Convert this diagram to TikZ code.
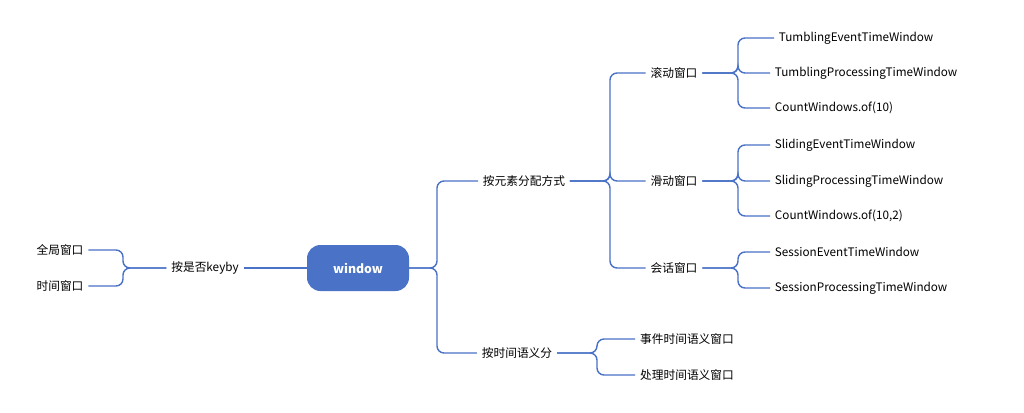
\documentclass[tikz,border=0pt]{standalone}
\usepackage{fontspec}
\setmainfont{Noto Sans CJK SC}
\usetikzlibrary{positioning}
\definecolor{linkblue}{HTML}{4A72C6}
\begin{document}
\begin{tikzpicture}[x=0.03cm, y=-0.03cm,
        item/.style={inner sep=4pt, font=\fontsize{10pt}{12pt}\selectfont},
        leaf/.style={item, anchor=west},
        root/.style={rounded corners=11.5pt, fill=linkblue, text=white, minimum width=3.06cm, minimum height=1.38cm, font=\bfseries\fontsize{10.5pt}{12pt}\selectfont},
        link/.style={draw=linkblue, line width=1.2pt, rounded corners=6pt}
        ]
        \useasboundingbox (0,0) rectangle (1024,412);

        % Nodes
        \node (win) [root] at (358,268) {window};
        \node (keyby) [item] at (205,268) {按是否keyby};
        \node (global) [item] at (60,250) {全局窗口};
        \node (timewin) [item] at (60,286) {时间窗口};
        \node (assign) [item] at (524,181) {按元素分配方式};
        \node (sem) [item] at (517,353) {按时间语义分};
        \node (tumble) [item] at (674,73) {滚动窗口};
        \node (slide) [item] at (674,181) {滑动窗口};
        \node (session) [item] at (674,268) {会话窗口};
        \node (tev) [leaf] at (774,38) {TumblingEventTimeWindow};
        \node (tpr) [leaf] at (770,73) {TumblingProcessingTimeWindow};
        \node (tcnt) [leaf] at (770,108) {CountWindows.of(10)};
        \node (sev) [leaf] at (770,145) {SlidingEventTimeWindow};
        \node (spr) [leaf] at (770,181) {SlidingProcessingTimeWindow};
        \node (scnt) [leaf] at (770,216) {CountWindows.of(10,2)};
        \node (ssev) [leaf] at (770,252) {SessionEventTimeWindow};
        \node (sspr) [leaf] at (770,288) {SessionProcessingTimeWindow};
        \node (evt) [item] at (687,339) {事件时间语义窗口};
        \node (proc) [item] at (687,375) {处理时间语义窗口};

        % Spines
        \coordinate (s0) at (123,0);
        \coordinate (s1) at (437,0);
        \coordinate (s2) at (610,0);
        \coordinate (s3) at (738,0);
        \coordinate (s4) at (597,0);

        % Links
        \draw [link] (win.west) -- (keyby.east);
        \foreach \c in {global, timewin}
            \draw [link] (keyby.west) -- (keyby.west -| s0) |- (\c.east);
        \foreach \c in {assign, sem}
            \draw [link] (win.east) -- (win.east -| s1) |- (\c.west);
        \foreach \c in {tumble, slide, session}
            \draw [link] (assign.east) -- (assign.east -| s2) |- (\c.west);
        \foreach \c in {tev, tpr, tcnt}
            \draw [link] (tumble.east) -- (tumble.east -| s3) |- (\c.west);
        \foreach \c in {sev, spr, scnt}
            \draw [link] (slide.east) -- (slide.east -| s3) |- (\c.west);
        \foreach \c in {ssev, sspr}
            \draw [link] (session.east) -- (session.east -| s3) |- (\c.west);
        \foreach \c in {evt, proc}
            \draw [link] (sem.east) -- (sem.east -| s4) |- (\c.west);

    \end{tikzpicture}
\end{document}
